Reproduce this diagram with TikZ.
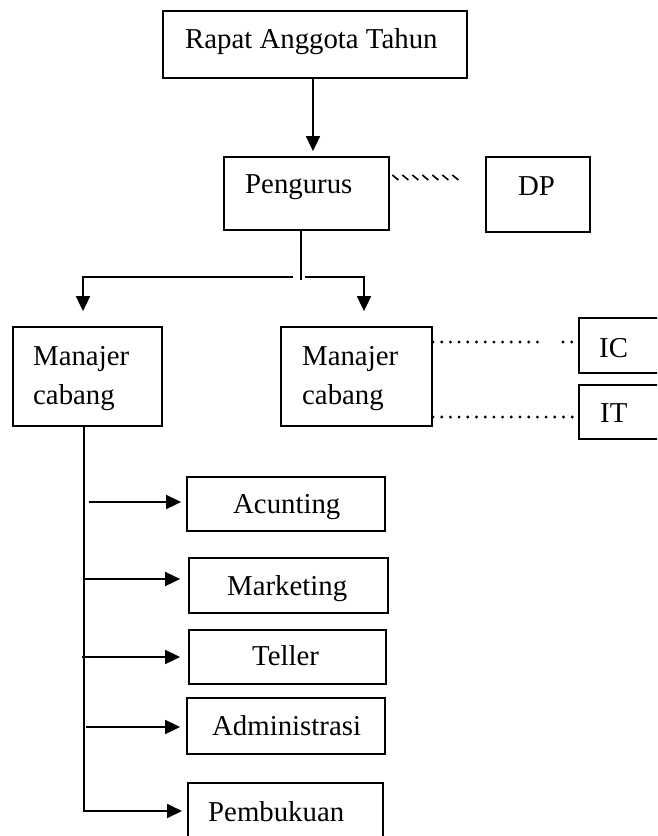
\documentclass[tikz,border=0pt]{standalone}
\usepackage{fontspec}
\setmainfont{Liberation Serif}
\usetikzlibrary{arrows.meta,calc}
\begin{document}
\begin{tikzpicture}[x=1pt,y=-1pt,
  box/.style={draw,line width=1.8pt,rectangle,inner sep=0pt},
  txt/.style={inner sep=0pt,anchor=base west,font=\fontsize{28.8}{39}\selectfont},
  ln/.style={line width=1.8pt},
  arr/.style={line width=1.8pt,-{Triangle[length=15pt,width=14pt]}},
  dots/.style={line width=3.2pt,line cap=round,dash pattern=on 0pt off 8.7pt},
  tick/.style={line width=1.6pt}]
\useasboundingbox (0,0) rectangle (657,836);
\clip (0,0) rectangle (657,836);
% boxes
\node[box,minimum width=304pt,minimum height=67pt] (rapat) at (315,44.5) {};
\node[box,minimum width=165pt,minimum height=73pt] (pengurus) at (306.5,193.5) {};
\node[box,minimum width=104pt,minimum height=75pt] (dp) at (538,194.5) {};
\node[box,minimum width=149pt,minimum height=99pt] (mc1) at (87.5,376.5) {};
\node[box,minimum width=151pt,minimum height=99pt] (mc2) at (356.5,376.5) {};
\node[box,minimum width=121pt,minimum height=55pt] (ic) at (639.5,345.5) {};
\node[box,minimum width=121pt,minimum height=54pt] (it) at (639.5,412) {};
\node[box,minimum width=198pt,minimum height=54pt] (acunting) at (286,504) {};
\node[box,minimum width=199pt,minimum height=55pt] (marketing) at (288.5,585.5) {};
\node[box,minimum width=197pt,minimum height=54pt] (teller) at (287.5,657) {};
\node[box,minimum width=198pt,minimum height=56pt] (admin) at (286,726) {};
\node[box,minimum width=195pt,minimum height=97pt] (pembukuan) at (285.5,831.5) {};
% texts
\node[txt] (trapat) at (185,48) {Rapat Anggota Tahun};
\node[txt] (tpengurus) at (245,193) {Pengurus};
\node[txt] (tdp) at (518,195) {DP};
\node[txt,align=left] (tmc1) at (33,404) {Manajer\\cabang};
\node[txt,align=left] (tmc2) at (302,404) {Manajer\\cabang};
\node[txt] (tic) at (599,357) {IC};
\node[txt] (tit) at (600,422) {IT};
\node[txt] (tacunting) at (233,513) {Acunting};
\node[txt] (tmarketing) at (227,595) {Marketing};
\node[txt] (tteller) at (252,665) {Teller};
\node[txt] (tadmin) at (212,735) {Administrasi};
\node[txt] (tpembukuan) at (208,821) {Pembukuan};
% connectors
\draw[arr,shorten >=5pt] ([xshift=-2pt]rapat.south) -- ([xshift=-2pt]rapat.south |- pengurus.north);
\draw[ln] ([xshift=-5.5pt]pengurus.south) -- ++(0,49);
\coordinate (sl) at (293,277);
\coordinate (sr) at (305,277);
\draw[arr,shorten >=15pt] (sl) -| ([xshift=-4.5pt]mc1.north);
\draw[arr,shorten >=15pt] (sr) -| ([xshift=7.5pt]mc2.north);
\coordinate (b5) at (188,811);
\draw[arr,shorten >=6pt] ([xshift=-3.5pt]mc1.south) |- (b5);
\coordinate (a1) at (89,502);
\coordinate (a2) at (83,579);
\coordinate (a3) at (82,657);
\coordinate (a4) at (86,727);
\draw[arr,shorten >=5pt] (a1) -- (acunting.west |- a1);
\draw[arr,shorten >=8pt] (a2) -- (marketing.west |- a2);
\draw[arr,shorten >=8pt] (a3) -- (teller.west |- a3);
\draw[arr,shorten >=6pt] (a4) -- (admin.west |- a4);
% dotted links
\coordinate (d1) at (433,342);
\coordinate (d2) at (541,342);
\coordinate (d3) at (563,342);
\coordinate (d4) at (433,417);
\draw[dots] (d1) -- (d2);
\draw[dots] (d3) -- (ic.west |- d3);
\draw[dots] (d4) -- (it.west |- d4);
\foreach \i in {0,...,6} \draw[tick] ($(pengurus.east)+(2.5+10*\i,-18.5)$) -- ++(6,5);
\end{tikzpicture}
\end{document}
